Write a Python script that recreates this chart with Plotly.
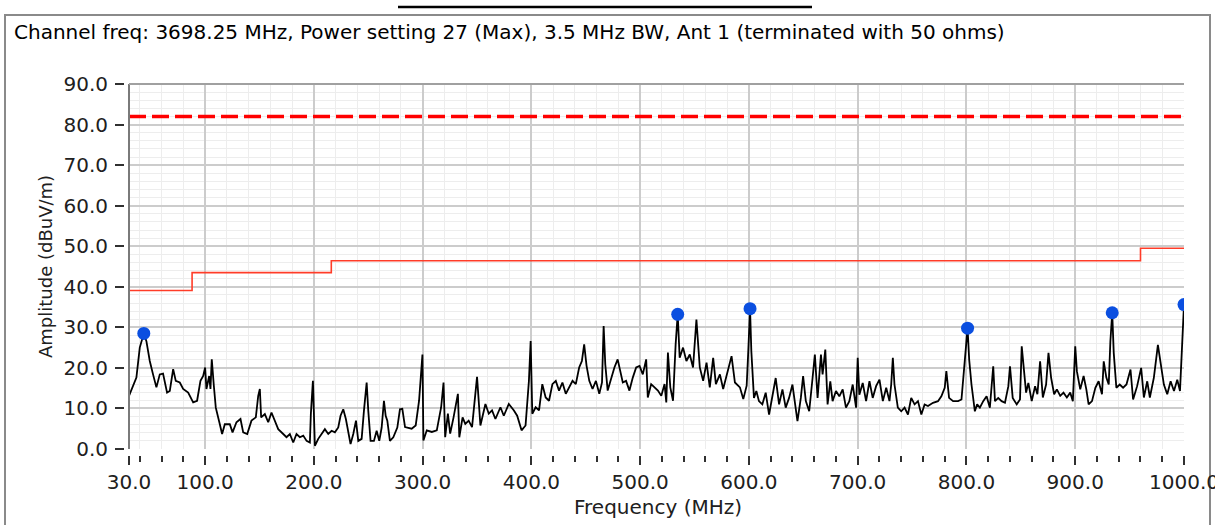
import plotly.graph_objects as go

# ---------------- data ----------------
title_text = "Channel freq: 3698.25 MHz, Power setting 27 (Max), 3.5 MHz BW, Ant 1 (terminated with 50 ohms)"

freq = [30, 36.8, 39.9, 43.6, 46.0, 49.1, 52.1, 55.2, 58.3, 61.3, 65.0, 67.5, 70.6, 73.0, 76.7, 79.8,
        84.4, 89.0, 92.6, 95.7, 98.2, 100.0, 101.2, 103.7, 104.9, 106.1, 108.0, 109.8, 113.5, 115.6,
        118.1, 122.7, 125.2, 128.8, 132.5, 135.0, 138.7, 142.6, 146.6, 148.8, 150.3, 151.5, 154.9,
        158.0, 161.0, 164.1, 167.2, 171.8, 174.8, 177.9, 181.0, 184.0, 187.1, 190.2, 193.3, 196.3,
        197.2, 199.1, 200.0, 200.9, 204.0, 207.1, 210.1, 213.2, 216.3, 219.3, 222.4, 224.5, 227.0,
        229.4, 231.6, 233.7, 236.2, 238.7, 240.8, 243.9, 246.0, 248.5, 250.0, 252.1, 255.2, 257.7,
        260.1, 262.3, 264.4, 266.0, 267.5, 269.9, 273.0, 276.7, 279.1, 281.3, 283.8, 289.9, 293.6,
        296.7, 299.8, 300.7, 303.8, 308.4, 313.0, 317.0, 319.2, 320.7, 323.2, 325.3, 328.4, 332.4,
        333.7, 336.7, 339.2, 342.3, 345.4, 348.4, 350.0, 353.1, 357.7, 360.8, 363.8, 366.9, 371.5,
        374.6, 379.2, 383.9, 386.9, 390.9, 394.6, 397.7, 399.3, 400.8, 403.9, 407.0, 410.0, 413.1,
        416.2, 419.3, 422.4, 425.4, 428.5, 431.6, 434.7, 437.8, 440.8, 443.9, 446.4, 448.5, 450.7,
        453.2, 456.2, 459.3, 462.4, 464.9, 466.4, 467.9, 470.1, 473.2, 476.3, 479.3, 481.5, 484.0,
        487.0, 490.1, 493.2, 496.3, 499.4, 502.4, 505.5, 507.0, 510.1, 513.2, 516.3, 519.4, 522.4,
        524.0, 525.5, 527.7, 530.2, 532.6, 534.5, 536.3, 539.4, 542.5, 545.6, 548.6, 551.7, 553.3,
        554.8, 557.9, 561.0, 564.0, 567.1, 569.6, 573.3, 576.3, 581.0, 584.0, 587.1, 591.7, 594.8,
        597.9, 599.4, 601.0, 602.2, 604.6, 606.8, 609.2, 612.3, 615.4, 618.5, 621.5, 624.6, 627.7,
        630.8, 633.8, 636.9, 640.0, 642.5, 644.6, 647.7, 649.8, 652.3, 655.4, 658.5, 660.6, 663.1,
        666.2, 667.7, 670.2, 672.3, 674.8, 676.9, 680.0, 683.1, 686.2, 689.2, 692.3, 695.4, 698.5,
        700.0, 701.5, 704.6, 707.7, 710.8, 713.8, 716.9, 720.0, 723.1, 726.2, 729.2, 730.8, 732.3,
        733.8, 736.9, 740.0, 743.1, 746.2, 749.2, 752.3, 755.4, 758.5, 761.5, 764.6, 769.2, 773.8,
        776.9, 780.0, 781.5, 784.0, 787.7, 792.3, 795.4, 798.5, 801.0, 802.5, 804.6, 807.7, 809.8,
        812.3, 815.4, 818.5, 821.5, 824.6, 826.2, 829.2, 832.3, 835.4, 838.5, 840.0, 842.5, 846.2,
        849.2, 850.8, 852.9, 854.8, 856.9, 860.0, 863.1, 865.2, 867.7, 870.2, 873.2, 875.4, 877.8,
        880.6, 883.1, 886.2, 889.2, 892.3, 895.4, 897.8, 900.0, 901.5, 904.6, 907.7, 910.2, 912.3,
        915.4, 918.5, 921.5, 924.6, 926.2, 928.6, 930.8, 932.3, 934.0, 935.4, 937.8, 940.9, 944.0,
        947.1, 950.8, 953.2, 956.9, 960.6, 963.1, 966.2, 968.6, 972.3, 976.0, 978.5, 981.5, 984.6,
        987.7, 990.8, 993.8, 996.3, 998.5, 1000.0]

amplitude = [13.1, 17.6, 25.0, 28.5, 26.6, 21.7, 18.4, 15.2, 18.4, 18.6, 13.9, 14.3, 19.7, 16.8, 16.4, 14.8,
             13.9, 11.5, 11.9, 16.8, 18.0, 20.1, 14.8, 18.0, 14.8, 22.1, 15.6, 10.2, 6.1, 3.7,
             6.1, 6.1, 4.1, 6.6, 7.4, 4.1, 3.7, 7.0, 7.8, 13.1, 14.8, 7.8, 8.6,
             6.6, 9.0, 7.0, 4.9, 3.7, 2.9, 3.7, 1.6, 3.7, 2.9, 3.3, 2.0, 1.6,
             8.6, 16.8, 9.8, 0.8, 2.5, 3.7, 4.9, 3.7, 4.5, 4.1, 5.3, 8.2, 9.8,
             7.4, 3.7, 1.2, 3.7, 7.0, 2.0, 2.5, 9.4, 16.4, 9.4, 2.0, 2.0, 4.5,
             2.0, 5.3, 11.9, 8.2, 7.0, 2.0, 2.9, 5.3, 9.8, 9.9, 5.4, 5.0, 5.8,
             11.9, 23.3, 2.1, 4.6, 4.2, 4.6, 10.3, 16.4, 2.9, 8.7, 3.8, 7.8, 13.6,
             2.9, 7.8, 6.2, 7.0, 5.4, 12.7, 17.8, 5.8, 11.1, 8.7, 9.5, 7.4, 10.3,
             8.2, 11.1, 9.5, 8.2, 4.6, 5.8, 16.8, 26.6, 8.7, 10.3, 9.5, 16.0, 12.7,
             11.9, 16.0, 16.8, 14.4, 16.4, 13.6, 15.2, 16.8, 16.0, 20.1, 21.7, 25.8, 20.5,
             16.8, 14.8, 16.8, 13.6, 16.4, 30.3, 20.9, 14.4, 17.6, 20.1, 22.1, 19.3, 16.4,
             16.8, 14.4, 17.6, 20.1, 20.5, 18.4, 22.1, 12.7, 16.0, 15.2, 14.4, 13.1, 16.0,
             11.5, 23.8, 15.2, 11.9, 25.8, 33.2, 22.5, 25.0, 21.7, 23.3, 20.1, 31.9, 25.8,
             20.1, 16.8, 21.3, 15.2, 22.5, 16.0, 18.4, 14.8, 20.1, 22.9, 16.4, 15.2, 12.3,
             15.6, 24.2, 34.6, 24.1, 12.6, 14.3, 11.8, 11.0, 13.9, 8.5, 13.4, 17.5, 11.0,
             14.7, 10.2, 12.6, 15.9, 11.0, 6.9, 12.6, 18.0, 11.8, 9.3, 17.5, 23.3, 12.6,
             23.3, 18.4, 24.5, 11.0, 16.7, 11.8, 14.3, 13.0, 14.7, 10.2, 11.8, 15.9, 10.2,
             22.5, 13.4, 16.3, 11.8, 16.7, 12.6, 15.5, 17.1, 11.8, 15.1, 11.8, 15.9, 22.5,
             15.9, 10.2, 9.3, 10.2, 8.5, 12.6, 11.0, 11.8, 8.5, 11.0, 10.6, 11.4, 11.8,
             13.0, 15.1, 19.2, 12.6, 11.8, 11.8, 12.2, 22.0, 29.8, 22.0, 15.9, 9.3, 11.0,
             10.2, 11.8, 13.0, 10.2, 20.4, 11.8, 12.6, 11.8, 11.4, 15.5, 20.4, 12.6, 11.0,
             12.2, 25.3, 19.2, 13.9, 16.3, 11.8, 15.5, 13.5, 21.6, 12.7, 15.9, 23.7, 17.6,
             13.5, 14.7, 13.1, 13.9, 12.7, 13.9, 11.8, 25.3, 19.2, 14.7, 18.0, 14.7, 11.0,
             11.8, 15.1, 16.7, 13.5, 21.6, 17.6, 15.9, 26.5, 33.6, 23.7, 15.1, 15.9, 15.1,
             15.9, 19.6, 12.2, 15.5, 20.0, 12.7, 16.7, 12.7, 17.6, 25.7, 20.8, 15.9, 13.5,
             16.7, 14.3, 17.1, 14.3, 28.2, 35.6]

peak_freq = [43.6, 534.5, 601.0, 801.0, 934.0, 1000.0]
peak_amp = [28.5, 33.2, 34.6, 29.8, 33.6, 35.6]

limit_freq = [30, 88, 88.01, 216, 216.01, 960, 960.01, 1000]
limit_amp = [39.1, 39.1, 43.5, 43.5, 46.4, 46.4, 49.5, 49.5]

dash_freq = [30, 1000]
dash_amp = [82.0, 82.0]

x_tickvals = [30, 100, 200, 300, 400, 500, 600, 700, 800, 900, 1000]
x_minor = list(range(40, 1000, 20))
y_tickvals = [0, 10, 20, 30, 40, 50, 60, 70, 80, 90]

# ---------------- layout geometry ----------------
W, H = 1215, 525
L, R, T, B = 124, 31, 84, 70
PW, PH = W - L - R, H - T - B


def px(x):
    return (x - L) / PW


def py(y):
    return (H - B - y) / PH


FONT = "DejaVu Sans"

fig = go.Figure()
fig.add_trace(go.Scatter(x=freq, y=amplitude, mode="lines",
                         line=dict(color="#000000", width=1.8), hoverinfo="skip"))
fig.add_trace(go.Scatter(x=limit_freq, y=limit_amp, mode="lines",
                         line=dict(color="#ff3c28", width=1.6)))
fig.add_trace(go.Scatter(x=dash_freq, y=dash_amp, mode="lines",
                         line=dict(color="#ff0000", width=3.5, dash="17px,6px")))
fig.add_trace(go.Scatter(x=peak_freq, y=peak_amp, mode="markers",
                         marker=dict(color="#0b4fe0", size=13, line=dict(width=0))))

fig.update_layout(
    width=W, height=H,
    margin=dict(l=L, r=R, t=T, b=B, autoexpand=False),
    paper_bgcolor="white", plot_bgcolor="white",
    showlegend=False,
    font=dict(family=FONT, color="#202020"),
    title=dict(text=title_text, x=14 / W, xanchor="left", xref="container",
               y=1 - 32 / H, yanchor="middle", yref="container",
               font=dict(family=FONT, size=20, color="#000000")),
    xaxis=dict(range=[30, 1000], domain=[5 / PW, 1], anchor="free", position=0,
               automargin=False,
               tickmode="array", tickvals=x_tickvals, tickformat=".1f",
               ticks="outside", ticklen=9, tickwidth=2, tickcolor="#303030",
               ticklabeloverflow="allow",
               tickfont=dict(size=20, family=FONT, color="#202020"),
               showgrid=True, gridcolor="#cccccc", gridwidth=1.5,
               showline=False, zeroline=False,
               minor=dict(tickmode="array", tickvals=x_minor, ticks="outside", ticklen=6,
                          tickwidth=2, tickcolor="#303030",
                          showgrid=True, gridcolor="#ededed", gridwidth=1)),
    yaxis=dict(range=[0, 90], domain=[6 / PH, 1], anchor="free", position=0,
               automargin=False,
               tickmode="array", tickvals=y_tickvals, tickformat=".1f",
               ticks="outside", ticklen=9, tickwidth=2, tickcolor="#303030",
               ticklabelstandoff=3,
               tickfont=dict(size=20, family=FONT, color="#202020"),
               showgrid=True, gridcolor="#cccccc", gridwidth=1.5,
               showline=False, zeroline=False,
               minor=dict(dtick=2, tick0=0, ticks="", showgrid=True,
                          gridcolor="#ededed", gridwidth=1)),
    annotations=[
        dict(text="Frequency (MHz)", xref="paper", yref="paper",
             x=px(658), y=py(507), xanchor="center", yanchor="middle",
             showarrow=False, font=dict(size=20, family=FONT, color="#202020")),
        dict(text="Amplitude (dBuV/m)", xref="paper", yref="paper",
             x=px(45), y=py(267), xanchor="center", yanchor="middle", textangle=-90,
             showarrow=False, font=dict(size=18, family=FONT, color="#202020")),
    ],
    shapes=[
        # left axis line
        dict(type="line", xref="x domain", yref="y domain", x0=0, x1=0, y0=0, y1=1,
             line=dict(color="#7a7a7a", width=2)),
        # top border of plot
        dict(type="line", xref="x domain", yref="y domain", x0=0, x1=1, y0=1, y1=1,
             line=dict(color="#a0a0a0", width=2)),
        # outer frame
        dict(type="rect", xref="paper", yref="paper", x0=px(5), x1=px(1210),
             y0=py(540), y1=py(15), line=dict(color="#8a8a8a", width=2), layer="below"),
        # cut-off heading underline at very top
        dict(type="line", xref="paper", yref="paper", x0=px(398), x1=px(812),
             y0=py(7), y1=py(7), line=dict(color="#000000", width=2.5)),
    ],
)

fig.write_html("out.html")
